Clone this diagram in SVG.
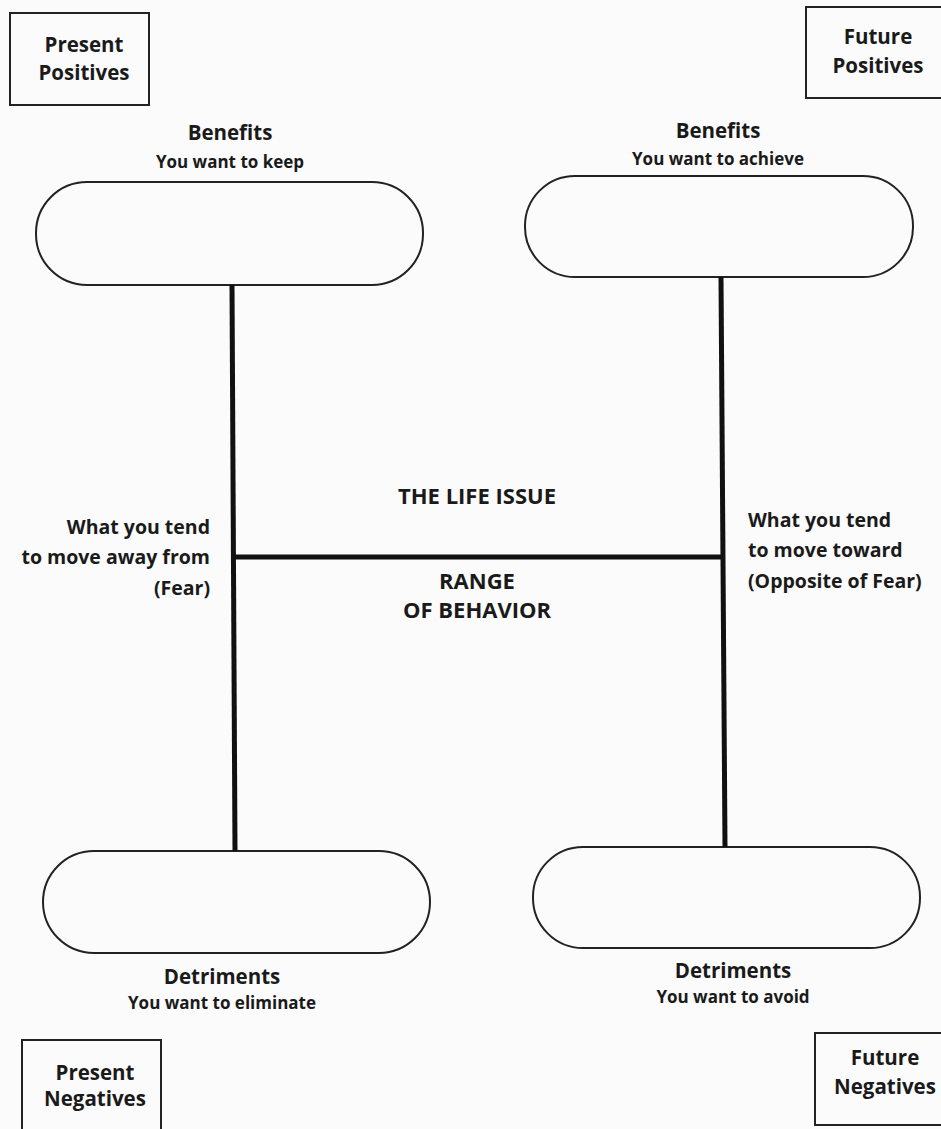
<svg xmlns="http://www.w3.org/2000/svg" width="941" height="1129" viewBox="0 0 941 1129">
<style>
text{font-family:"Open Sans","Liberation Sans",sans-serif;font-weight:700;fill:#1a1a1a}
.b{font-size:20.5px}
.m{font-size:19.5px}
.s{font-size:17px}
.t{font-size:22px}
.c{text-anchor:middle}
.r{text-anchor:end}
.box{fill:none;stroke:#222;stroke-width:2}
.pill{fill:none;stroke:#222;stroke-width:2}
.ln{stroke:#111;stroke-width:5;fill:none}
</style>
<rect width="941" height="1129" fill="#fbfbfb"/>
<g id="present-positives"><rect class="box" x="10" y="13" width="139" height="92"/><text class="b c" x="84" y="52">Present</text><text class="b c" x="84" y="80">Positives</text></g>
<g id="future-positives"><rect class="box" x="806" y="7" width="145" height="91"/><text class="b c" x="878" y="44">Future</text><text class="b c" x="878" y="73">Positives</text></g>
<g id="benefits-keep"><text class="b c" x="230" y="140">Benefits</text><text class="s c" x="230" y="168">You want to keep</text><rect class="pill" x="36" y="182" width="387" height="103" rx="51"/></g>
<g id="benefits-achieve"><text class="b c" x="718" y="138">Benefits</text><text class="s c" x="718" y="165">You want to achieve</text><rect class="pill" x="525" y="176" width="388" height="101" rx="50"/></g>
<g id="life-issue"><text class="t c" x="477" y="504">THE LIFE ISSUE</text><text class="t c" x="477" y="589">RANGE</text><text class="t c" x="477" y="618">OF BEHAVIOR</text></g>
<g id="fear"><text class="m r" x="210" y="534">What you tend</text><text class="m r" x="210" y="564">to move away from</text><text class="m r" x="210" y="595">(Fear)</text></g>
<g id="opposite"><text class="m" x="748" y="527">What you tend</text><text class="m" x="748" y="557">to move toward</text><text class="m" x="748" y="588">(Opposite of Fear)</text></g>
<g id="detriments-eliminate"><rect class="pill" x="43" y="851" width="387" height="102" rx="51"/><text class="b c" x="222" y="984">Detriments</text><text class="s c" x="222" y="1009">You want to eliminate</text></g>
<g id="detriments-avoid"><rect class="pill" x="533" y="847" width="387" height="101" rx="50"/><text class="b c" x="733" y="978">Detriments</text><text class="s c" x="733" y="1003">You want to avoid</text></g>
<g id="present-negatives"><rect class="box" x="22" y="1040" width="139" height="100"/><text class="b c" x="95" y="1080">Present</text><text class="b c" x="95" y="1106">Negatives</text></g>
<g id="future-negatives"><rect class="box" x="815" y="1033" width="136" height="92"/><text class="b c" x="885" y="1065">Future</text><text class="b c" x="885" y="1094">Negatives</text></g>
<g id="connectors">
<line class="ln" x1="232" y1="285" x2="235" y2="851"/>
<line class="ln" x1="721" y1="277" x2="725" y2="847"/>
<line class="ln" x1="233" y1="557" x2="723" y2="557"/>
</g>
</svg>
